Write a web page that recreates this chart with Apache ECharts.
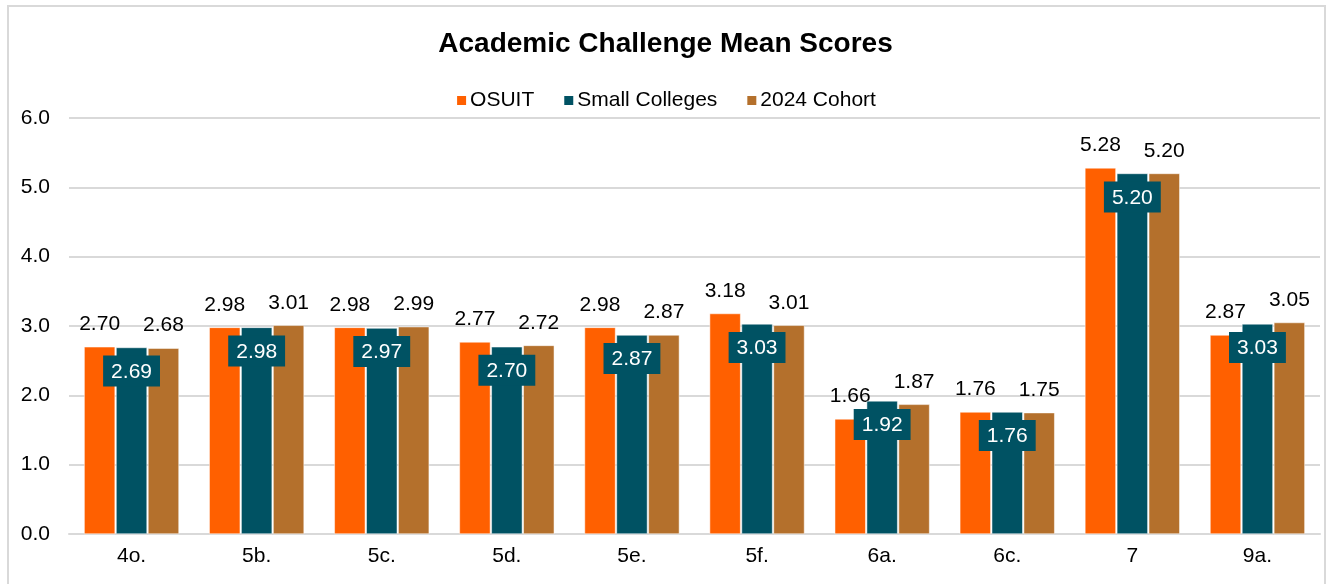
<!DOCTYPE html>
<html>
<head>
<meta charset="utf-8">
<script src="https://cdn.jsdelivr.net/npm/echarts@6/dist/echarts.min.js"></script>
<style>
  html, body { margin: 0; padding: 0; background: #fff; }
  #frame {
    position: absolute; left: 7px; top: 5px; width: 1319px; height: 600px;
    border: 2px solid #d9d9d9; box-sizing: border-box;
  }
  #chart { position: absolute; left: 0; top: 0; width: 1331px; height: 584px; }
</style>
</head>
<body>
<div id="frame"></div>
<div id="chart"></div>
<script>
const categories = ['4o.', '5b.', '5c.', '5d.', '5e.', '5f.', '6a.', '6c.', '7', '9a.']
const osuit = [2.70, 2.98, 2.98, 2.77, 2.98, 3.18, 1.66, 1.76, 5.28, 2.87]
const smallColleges = [2.69, 2.98, 2.97, 2.70, 2.87, 3.03, 1.92, 1.76, 5.20, 3.03]
const cohort2024 = [2.68, 3.01, 2.99, 2.72, 2.87, 3.01, 1.87, 1.75, 5.20, 3.05]

const font = 'Liberation Sans, Arial, sans-serif'

const chart = echarts.init(document.getElementById('chart'))

const topLabel = {
  show: true,
  position: 'top',
  distance: 12,
  color: '#000',
  fontSize: 21,
  fontFamily: font,
  formatter: p => p.value.toFixed(2)
}

chart.setOption({
  animation: false,
  title: {
    text: 'Academic Challenge Mean Scores',
    left: 'center',
    top: 25,
    textStyle: { fontSize: 28, fontWeight: 'bold', color: '#000', fontFamily: font }
  },
  legend: {
    top: 85,
    left: 'center',
    itemWidth: 11,
    itemHeight: 11,
    itemGap: 28,
    icon: 'rect',
    textStyle: { fontSize: 21, color: '#000', fontFamily: font, padding: [0, 0, 0, -2] },
    data: ['OSUIT', 'Small Colleges', '2024 Cohort']
  },
  grid: { left: 69, right: 11, top: 118, bottom: 50, containLabel: false },
  xAxis: {
    type: 'category',
    data: categories,
    axisLine: { lineStyle: { color: '#d9d9d9', width: 2 } },
    axisTick: { show: false },
    axisLabel: { color: '#000', fontSize: 21, fontFamily: font, margin: 12 }
  },
  yAxis: {
    type: 'value',
    min: 0,
    max: 6,
    interval: 1,
    axisLine: { show: false },
    axisTick: { show: false },
    splitLine: { lineStyle: { color: '#d9d9d9', width: 2 } },
    axisLabel: {
      color: '#000', fontSize: 21, fontFamily: font, margin: 19,
      formatter: v => v.toFixed(1)
    }
  },
  series: [
    {
      name: 'OSUIT',
      type: 'bar',
      data: osuit,
      barWidth: 31,
      barGap: '3%',
      itemStyle: { color: '#ff6000', borderColor: '#fff', borderWidth: 0.5 },
      label: topLabel
    },
    {
      name: 'Small Colleges',
      type: 'bar',
      data: smallColleges,
      barWidth: 31,
      barGap: '3%',
      z: 3,
      itemStyle: { color: '#005263', borderColor: '#fff', borderWidth: 0.5 },
      label: {
        show: true,
        position: 'insideTop',
        distance: 8,
        color: '#fff',
        fontSize: 21,
        fontFamily: font,
        backgroundColor: '#005263',
        padding: [6, 8, 4, 8],
        formatter: p => p.value.toFixed(2)
      }
    },
    {
      name: '2024 Cohort',
      type: 'bar',
      data: cohort2024,
      barWidth: 31,
      barGap: '3%',
      itemStyle: { color: '#b4702c', borderColor: '#fff', borderWidth: 0.5 },
      label: topLabel
    }
  ]
})
</script>
</body>
</html>
